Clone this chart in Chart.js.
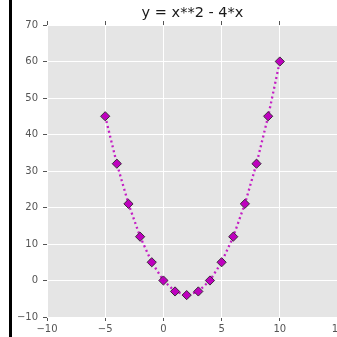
<!DOCTYPE html>
<html>
<head>
<meta charset="utf-8">
<script src="https://cdn.jsdelivr.net/npm/chart.js@4.4.1/dist/chart.umd.min.js"></script>
<style>
  html, body { margin: 0; padding: 0; background: #fff; overflow: hidden; }
  #wrap { position: absolute; left: 0; top: 0; width: 360px; height: 337px; }
  #bar { position: absolute; left: 9px; top: 0; width: 3px; height: 337px; background: #000; }
</style>
</head>
<body>
<div id="bar"></div>
<div id="wrap"><canvas id="chart" width="360" height="337"></canvas></div>
<script>
// values
const xs = [-5, -4, -3, -2, -1, 0, 1, 2, 3, 4, 5, 6, 7, 8, 9, 10];
const ys = [45, 32, 21, 12, 5, 0, -3, -4, -3, 0, 5, 12, 21, 32, 45, 60];
const titleText = 'y = x**2 - 4*x';

const points = xs.map((x, i) => ({ x: x, y: ys[i] }));

const minus = (v) => String(v).replace('-', '\u2212');

const plotBg = {
    id: 'plotBg',
    beforeDraw(chart) {
        const { ctx, chartArea: a } = chart;
        ctx.save();
        ctx.fillStyle = '#e5e5e5';
        ctx.fillRect(a.left, a.top, a.right - a.left, a.bottom - a.top);
        ctx.restore();
    }
};

const tickFont = { family: 'DejaVu Sans', size: 10 };

new Chart(document.getElementById('chart'), {
    type: 'scatter',
    data: {
        datasets: [{
            data: points,
            showLine: true,
            borderColor: '#c41ec4',
            borderWidth: 2.3,
            borderDash: [2, 3],
            pointStyle: 'rectRot',
            pointRadius: 4.6,
            pointBackgroundColor: '#bf00bf',
            pointBorderColor: '#3a2a3a',
            pointBorderWidth: 1
        }]
    },
    plugins: [plotBg],
    options: {
        responsive: false,
        animation: false,
        layout: { padding: { left: 0, right: 22, top: 0, bottom: 0 } },
        plugins: {
            legend: { display: false },
            tooltip: { enabled: false },
            title: {
                display: true,
                text: titleText,
                fullSize: false,
                color: '#1a1a1a',
                font: { family: 'DejaVu Sans', size: 14.5, weight: 'normal', lineHeight: 1.2 },
                padding: { top: 5, bottom: 2.6 }
            }
        },
        scales: {
            x: {
                type: 'linear',
                position: 'bottom',
                min: -10, max: 15,
                afterFit: (s) => { s.height = 20; },
                border: { display: false },
                grid: { color: '#fff', lineWidth: 1, tickColor: '#555', tickLength: 4 },
                ticks: { stepSize: 5, color: '#555', font: tickFont, padding: 2, maxRotation: 0, callback: minus }
            },
            xTop: {
                type: 'linear',
                position: 'top',
                min: -10, max: 15,
                afterFit: (s) => { s.height = 0; },
                border: { display: false },
                grid: { drawOnChartArea: false, tickColor: '#555', tickLength: 4 },
                ticks: { stepSize: 5, display: false }
            },
            y: {
                type: 'linear',
                min: -10, max: 70,
                afterFit: (s) => { s.width = 47; },
                border: { display: false },
                grid: { color: '#fff', lineWidth: 1, tickColor: '#555', tickLength: 4 },
                ticks: { stepSize: 10, color: '#555', font: tickFont, padding: 5, callback: minus }
            }
        }
    }
});
</script>
</body>
</html>
